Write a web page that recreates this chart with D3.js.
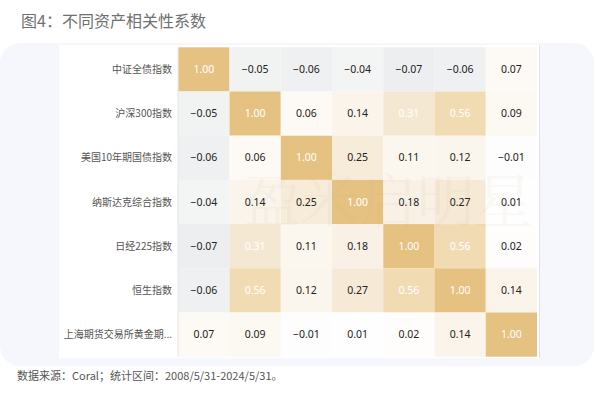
<!doctype html>
<html lang="zh">
<head>
<meta charset="UTF-8">
<title>不同资产相关性系数</title>
<style>
  html, body { margin: 0; padding: 0; background: #fff; }
  body { width: 596px; height: 397px; overflow: hidden; font-family: 'Noto Sans CJK SC', 'Noto Sans', sans-serif; }
</style>
</head>
<body>
<svg width="596" height="397"></svg>
<script src="https://d3js.org/d3.v7.min.js"></script>
<script>
  const assets = ['中证全债指数', '沪深300指数', '美国10年期国债指数', '纳斯达克综合指数', '日经225指数', '恒生指数', '上海期货交易所黄金期货']
  const corr = [
    [1.00, -0.05, -0.06, -0.04, -0.07, -0.06, 0.07],
    [-0.05, 1.00, 0.06, 0.14, 0.31, 0.56, 0.09],
    [-0.06, 0.06, 1.00, 0.25, 0.11, 0.12, -0.01],
    [-0.04, 0.14, 0.25, 1.00, 0.18, 0.27, 0.01],
    [-0.07, 0.31, 0.11, 0.18, 1.00, 0.56, 0.02],
    [-0.06, 0.56, 0.12, 0.27, 0.56, 1.00, 0.14],
    [0.07, 0.09, -0.01, 0.01, 0.02, 0.14, 1.00]
  ]
  const title = '图4：不同资产相关性系数'
  const source = '数据来源：Coral；统计区间：2008/5/31-2024/5/31。'

  const svg = d3.select('svg')

  // heading
  svg.append('text')
    .attr('x', 21).attr('y', 27)
    .attr('fill', '#707070')
    .attr('font-size', 16)
    .text(title)

  // card + white panel
  svg.append('rect')
    .attr('x', 0).attr('y', 43).attr('width', 594).attr('height', 323)
    .attr('rx', 20).attr('fill', '#f6f7fc')
  svg.append('rect')
    .attr('x', 59).attr('y', 45).attr('width', 481).attr('height', 313)
    .attr('fill', '#fff')
  svg.append('line')
    .attr('x1', 539.5).attr('x2', 539.5).attr('y1', 45).attr('y2', 358)
    .attr('stroke', '#dfe3f0')

  const x = d3.scaleBand().domain(d3.range(assets.length)).range([178.3, 537])
  const y = d3.scaleBand().domain(d3.range(assets.length)).range([47.3, 356.7])

  const color = d3.scaleLinear()
    .domain([-0.07, -0.04, 0, 0.3, 0.56, 1])
    .range(['#edeef0', '#f3f5f4', '#ffffff', '#f5e8d3', '#f0dbb3', '#e6c282'])
    .clamp(true)

  const cells = corr.flatMap((row, i) => row.map((v, j) => ({ i, j, v })))

  const g = svg.append('g')
  g.selectAll('rect')
    .data(cells)
    .enter()
    .append('rect')
    .attr('x', d => x(d.j))
    .attr('y', d => y(d.i))
    .attr('width', x.bandwidth())
    .attr('height', y.bandwidth())
    .attr('fill', d => color(d.v))

  // faint watermark
  svg.append('text')
    .attr('x', 388).attr('y', 222)
    .attr('text-anchor', 'middle')
    .attr('font-size', 58)
    .attr('font-family', "'Noto Serif CJK SC', 'Noto Sans CJK SC', serif")
    .attr('fill', '#b89c6a')
    .attr('opacity', 0.06)
    .text('盈米启明星')

  const fmt = v => (v < 0 ? '\u2212' : '') + Math.abs(v).toFixed(2)

  g.selectAll('text')
    .data(cells)
    .enter()
    .append('text')
    .attr('x', d => x(d.j) + x.bandwidth() / 2)
    .attr('y', d => y(d.i) + y.bandwidth() / 2)
    .attr('dy', '0.35em')
    .attr('text-anchor', 'middle')
    .attr('font-size', 10.5)
    .attr('font-family', "'Noto Sans', 'Noto Sans CJK SC', sans-serif")
    .attr('fill', d => d.v >= 0.3 ? '#ffffff' : '#222')
    .text(d => fmt(d.v))

  // axis line
  svg.append('line')
    .attr('x1', 178).attr('x2', 178).attr('y1', 47).attr('y2', 357)
    .attr('stroke', '#e4e4e4')

  const shortName = s => s.length > 10 ? s.slice(0, 10) + '...' : s

  svg.append('g')
    .selectAll('text')
    .data(assets)
    .enter()
    .append('text')
    .attr('x', 172)
    .attr('y', (d, i) => y(i) + y.bandwidth() / 2)
    .attr('dy', '0.35em')
    .attr('text-anchor', 'end')
    .attr('font-size', 10)
    .attr('fill', '#555')
    .text(shortName)

  svg.append('text')
    .attr('x', 17).attr('y', 380)
    .attr('fill', '#555')
    .attr('font-size', 11)
    .text(source)
</script>
</body>
</html>
